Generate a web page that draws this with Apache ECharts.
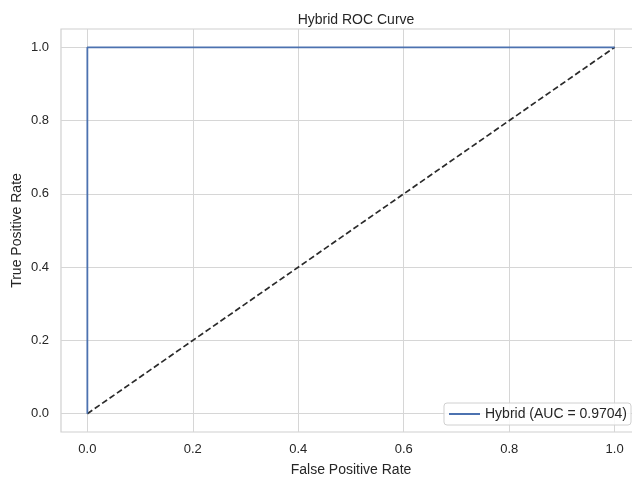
<!DOCTYPE html>
<html>
<head>
<meta charset="utf-8">
<script src="https://cdn.jsdelivr.net/npm/echarts@6/dist/echarts.min.js"></script>
<style>
html,body{margin:0;padding:0;background:#fff;}
#c{width:632px;height:477px;}
</style>
</head>
<body>
<div id="c"></div>
<script>
const fpr = [0.0, 0.0, 1.0];
const tpr = [0.0, 1.0, 1.0];
const chanceX = [0.0, 1.0];
const chanceY = [0.0, 1.0];
const tickValues = [0.0, 0.2, 0.4, 0.6, 0.8, 1.0];
const seriesName = 'Hybrid (AUC = 0.9704)';

const font = 'Liberation Sans, Arial, sans-serif';
const chart = echarts.init(document.getElementById('c'), null, {renderer: 'canvas'});
const axisCommon = {
  type: 'value',
  min: -0.05,
  max: 1.05,
  nameLocation: 'middle',
  nameMoveOverlap: false,
  nameTextStyle: {color: '#262626', fontSize: 14, fontFamily: font},
  axisLine: {show: false},
  axisTick: {show: false, customValues: tickValues},
  axisLabel: {customValues: tickValues, color: '#262626', fontSize: 13, fontFamily: font,
    formatter: v => v.toFixed(1)},
  splitLine: {show: true, lineStyle: {color: '#d6d6d6', width: 1}}
};
chart.setOption({
  animation: false,
  backgroundColor: '#fff',
  title: {
    text: 'Hybrid ROC Curve',
    left: 351, top: 8, textAlign: 'center',
    textStyle: {color: '#262626', fontSize: 14, fontWeight: 'normal', fontFamily: font}
  },
  grid: {left: 61, top: 29, width: 580, height: 403, containLabel: false, outerBoundsMode: 'none',
    show: true, borderColor: '#d0d0d0', borderWidth: 1.2, backgroundColor: 'transparent'},
  xAxis: Object.assign({}, axisCommon, {name: 'False Positive Rate', nameGap: 31,
    axisLabel: Object.assign({}, axisCommon.axisLabel, {margin: 11})}),
  yAxis: Object.assign({}, axisCommon, {name: 'True Positive Rate', nameGap: 37,
    axisLabel: Object.assign({}, axisCommon.axisLabel, {margin: 12})}),
  legend: {
    right: 1, bottom: 52,
    data: [{name: seriesName, icon: 'rect'}],
    itemWidth: 31, itemHeight: 2,
    backgroundColor: 'rgba(255,255,255,0.85)',
    borderColor: '#d0d0d0', borderWidth: 1, borderRadius: 3,
    padding: [4, 4, 4, 5],
    textStyle: {color: '#262626', fontSize: 14, fontFamily: font}
  },
  series: [
    {
      name: seriesName, type: 'line',
      data: fpr.map((x, i) => [x, tpr[i]]),
      showSymbol: false, symbol: 'none',
      lineStyle: {color: '#4c72b0', width: 1.8},
      itemStyle: {color: '#4c72b0'},
      z: 3
    },
    {
      name: 'chance', type: 'line',
      data: chanceX.map((x, i) => [x, chanceY[i]]),
      showSymbol: false, symbol: 'none',
      lineStyle: {color: '#2b2b2b', width: 1.7, type: [6, 3]},
      z: 2
    }
  ]
});
</script>
</body>
</html>
